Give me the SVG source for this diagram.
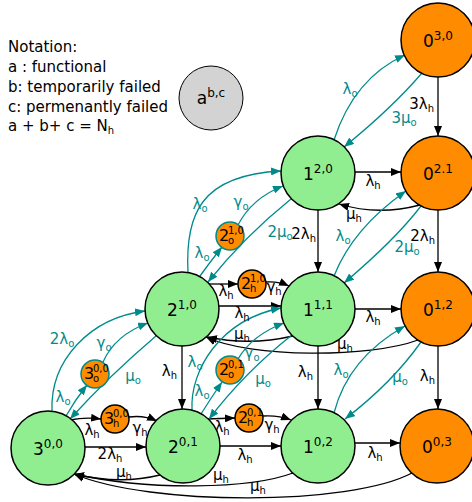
<svg xmlns="http://www.w3.org/2000/svg" width="472" height="502" viewBox="0 0 472 502">
<defs>
<marker id="ab" markerUnits="userSpaceOnUse" markerWidth="11" markerHeight="8" refX="10" refY="4" orient="auto"><path d="M0,0 L10,4 L0,8 z" fill="#000"/></marker>
<marker id="at" markerUnits="userSpaceOnUse" markerWidth="11" markerHeight="8" refX="10" refY="4" orient="auto"><path d="M0,0 L10,4 L0,8 z" fill="#008B8B"/></marker>
<style>
text{font-family:"DejaVu Sans",sans-serif}
.big{stroke:#000;stroke-width:1.5}
.g{fill:#90EE90}
.o{fill:#FF8C00}
.so{fill:#FF8C00;stroke:#008B8B;stroke-width:1.5}
.sh{fill:#FF8C00;stroke:#000;stroke-width:1.5}
.nl{font-size:17px;text-anchor:middle}
.sup{font-size:12px}
.sm{font-size:16px}
.ss{font-size:10px}
.e{fill:none;stroke:#000;stroke-width:1.3;marker-end:url(#ab)}
.t{fill:none;stroke:#008B8B;stroke-width:1.3;marker-end:url(#at)}
.el{font-size:15px;text-anchor:middle;fill:#000}
.ee{font-size:15px;text-anchor:end;fill:#000}
.tl{font-size:15px;text-anchor:middle;fill:#008B8B}
.s{font-size:10px}
.note{font-size:15px}
</style>
</defs>
<rect width="472" height="502" fill="#fff"/>

<g id="notation" class="note">
<text x="8" y="52">Notation:</text>
<text x="8" y="72">a : functional</text>
<text x="8" y="92">b: temporarily failed</text>
<text x="8" y="112">c: permenantly failed</text>
<text x="8" y="131">a + b+ c = N<tspan class="s" dy="3">h</tspan></text>
</g>

<g id="connectors">
<!-- black -->
<path class="e" d="M438,77 L438,136"/>
<path class="e" d="M438,210 L438,272"/>
<path class="e" d="M438,346 L438,409"/>
<path class="e" d="M355,172 L401,172"/>
<path class="e" d="M420,205 Q378,216 339,204"/>
<path class="e" d="M318,210 L318,272"/>
<path class="e" d="M355,309 L401,309"/>
<path class="e" d="M293,336 Q250,346 207,337"/>
<path class="e" d="M418,340 C370,358 250,358 206,337"/>
<path class="e" d="M219,306 L281,306"/>
<path class="e" d="M207,284 L238,284"/>
<path class="e" d="M266,282 Q278,281 289,286"/>
<path class="e" d="M182,346 L182,409"/>
<path class="e" d="M318,346 L318,409"/>
<path class="e" d="M85,447 L146,447"/>
<path class="e" d="M70,420 Q85,417 101,419"/>
<path class="e" d="M129,417 Q144,415 157,421"/>
<path class="e" d="M220,446 L281,446"/>
<path class="e" d="M206,419 L235,418"/>
<path class="e" d="M263,416 Q278,415 291,420"/>
<path class="e" d="M355,443 L400,443"/>
<path class="e" d="M160,475 Q120,485 74,474"/>
<path class="e" d="M293,473 C250,489 150,491 74,474"/>
<path class="e" d="M412,473 C350,506 150,506 74,474"/>
<!-- teal -->
<path class="t" d="M334,140 Q354,78 405,55"/>
<path class="t" d="M422,73 Q392,108 344,147"/>
<path class="t" d="M334,276 Q353,228 406,191"/>
<path class="t" d="M421,206 Q395,240 344,283"/>
<path class="t" d="M334,413 Q348,358 405,326"/>
<path class="t" d="M421,342 Q392,383 345,419"/>
<path class="t" d="M188,273 C185,215 200,175 281,171"/>
<path class="t" d="M200,276 Q210,262 222,247"/>
<path class="t" d="M238,225 Q252,198 283,186"/>
<path class="t" d="M291,199 Q245,236 208,282"/>
<path class="t" d="M52,411 C50,360 90,318 145,311"/>
<path class="t" d="M66,416 Q75,400 87,385"/>
<path class="t" d="M103,362 Q115,335 148,323"/>
<path class="t" d="M156,336 Q110,375 70,419"/>
<path class="t" d="M192,410 C190,370 220,320 281,308"/>
<path class="t" d="M201,414 Q211,398 222,382"/>
<path class="t" d="M238,359 Q252,335 284,323"/>
<path class="t" d="M292,335 Q245,372 209,419"/>
</g>

<g id="edge-labels">
<text class="ee" x="434" y="109">3λ<tspan class="s" dy="3">h</tspan></text>
<text class="ee" x="435" y="241">2λ<tspan class="s" dy="3">h</tspan></text>
<text class="ee" x="435" y="381">λ<tspan class="s" dy="3">h</tspan></text>
<text class="el" x="373" y="186">λ<tspan class="s" dy="3">h</tspan></text>
<text class="el" x="354" y="219">μ<tspan class="s" dy="3">h</tspan></text>
<text class="ee" x="316" y="239">2λ<tspan class="s" dy="3">h</tspan></text>
<text class="el" x="373" y="322">λ<tspan class="s" dy="3">h</tspan></text>
<text class="el" x="242" y="339">μ<tspan class="s" dy="3">h</tspan></text>
<text class="el" x="345" y="349">μ<tspan class="s" dy="3">h</tspan></text>
<text class="el" x="242" y="318">λ<tspan class="s" dy="3">h</tspan></text>
<text class="el" x="226" y="296">λ<tspan class="s" dy="3">h</tspan></text>
<text class="el" x="274" y="292">γ<tspan class="s" dy="3">h</tspan></text>
<text class="ee" x="177" y="376">λ<tspan class="s" dy="3">h</tspan></text>
<text class="ee" x="313" y="377">λ<tspan class="s" dy="3">h</tspan></text>
<text class="el" x="110" y="459">2λ<tspan class="s" dy="3">h</tspan></text>
<text class="el" x="92" y="435">λ<tspan class="s" dy="3">h</tspan></text>
<text class="el" x="140" y="433">γ<tspan class="s" dy="3">h</tspan></text>
<text class="el" x="245" y="460">λ<tspan class="s" dy="3">h</tspan></text>
<text class="el" x="222" y="432">λ<tspan class="s" dy="3">h</tspan></text>
<text class="el" x="272" y="430">γ<tspan class="s" dy="3">h</tspan></text>
<text class="el" x="375" y="458">λ<tspan class="s" dy="3">h</tspan></text>
<text class="el" x="124" y="477">μ<tspan class="s" dy="3">h</tspan></text>
<text class="el" x="221" y="480">μ<tspan class="s" dy="3">h</tspan></text>
<text class="el" x="258" y="491">μ<tspan class="s" dy="3">h</tspan></text>

<text class="tl" x="350" y="94">λ<tspan class="s" dy="3">o</tspan></text>
<text class="tl" x="404" y="123">3μ<tspan class="s" dy="3">o</tspan></text>
<text class="tl" x="343" y="241">λ<tspan class="s" dy="3">o</tspan></text>
<text class="tl" x="407" y="252">2μ<tspan class="s" dy="3">o</tspan></text>
<text class="tl" x="341" y="375">λ<tspan class="s" dy="3">o</tspan></text>
<text class="tl" x="400" y="382">μ<tspan class="s" dy="3">o</tspan></text>
<text class="tl" x="200" y="209">λ<tspan class="s" dy="3">o</tspan></text>
<text class="tl" x="202" y="258">λ<tspan class="s" dy="3">o</tspan></text>
<text class="tl" x="241" y="207">γ<tspan class="s" dy="3">o</tspan></text>
<text class="tl" x="280" y="237">2μ<tspan class="s" dy="3">o</tspan></text>
<text class="tl" x="62" y="344">2λ<tspan class="s" dy="3">o</tspan></text>
<text class="tl" x="63" y="402">λ<tspan class="s" dy="3">o</tspan></text>
<text class="tl" x="104" y="348">γ<tspan class="s" dy="3">o</tspan></text>
<text class="tl" x="133" y="381">μ<tspan class="s" dy="3">o</tspan></text>
<text class="tl" x="195" y="367">λ<tspan class="s" dy="3">o</tspan></text>
<text class="tl" x="202" y="396">λ<tspan class="s" dy="3">o</tspan></text>
<text class="tl" x="252" y="358">γ<tspan class="s" dy="3">o</tspan></text>
<text class="tl" x="263" y="384">μ<tspan class="s" dy="3">o</tspan></text>
</g>

<g id="legend"><circle cx="211" cy="98" r="32" fill="#D3D3D3" stroke="#000" stroke-width="1"/><text class="nl" x="211" y="104">a<tspan class="sup" dy="-7">b,c</tspan></text></g>

<g id="n0_30"><circle class="big o" cx="438" cy="40" r="37"/><text class="nl" x="438" y="47">0<tspan class="sup" dy="-7">3,0</tspan></text></g>
<g id="n0_21"><circle class="big o" cx="438" cy="173" r="37"/><text class="nl" x="438" y="180">0<tspan class="sup" dy="-7">2.1</tspan></text></g>
<g id="n0_12"><circle class="big o" cx="438" cy="309" r="37"/><text class="nl" x="438" y="316">0<tspan class="sup" dy="-7">1,2</tspan></text></g>
<g id="n0_03"><circle class="big o" cx="437" cy="446" r="37"/><text class="nl" x="437" y="453">0<tspan class="sup" dy="-7">0,3</tspan></text></g>
<g id="n1_20"><circle class="big g" cx="318" cy="173" r="37"/><text class="nl" x="318" y="180">1<tspan class="sup" dy="-7">2,0</tspan></text></g>
<g id="n1_11"><circle class="big g" cx="318" cy="309" r="37"/><text class="nl" x="318" y="316">1<tspan class="sup" dy="-7">1,1</tspan></text></g>
<g id="n1_02"><circle class="big g" cx="318" cy="446" r="37"/><text class="nl" x="318" y="453">1<tspan class="sup" dy="-7">0,2</tspan></text></g>
<g id="n2_10"><circle class="big g" cx="182" cy="309" r="37"/><text class="nl" x="182" y="316">2<tspan class="sup" dy="-7">1,0</tspan></text></g>
<g id="n2_01"><circle class="big g" cx="183" cy="446" r="37"/><text class="nl" x="183" y="453">2<tspan class="sup" dy="-7">0,1</tspan></text></g>
<g id="n3_00"><circle class="big g" cx="48" cy="448" r="37"/><text class="nl" x="48" y="455">3<tspan class="sup" dy="-7">0,0</tspan></text></g>

<g id="s2o_10"><circle class="so" cx="230" cy="236" r="14"/><text class="sm" x="219" y="241">2</text><text class="ss" x="228" y="244">o</text><text class="ss" x="228" y="234">1,0</text></g>
<g id="s3o_00"><circle class="so" cx="95" cy="374" r="14"/><text class="sm" x="84" y="379">3</text><text class="ss" x="93" y="382">o</text><text class="ss" x="93" y="372">0,0</text></g>
<g id="s2o_01"><circle class="so" cx="230" cy="370" r="14"/><text class="sm" x="219" y="375">2</text><text class="ss" x="228" y="378">o</text><text class="ss" x="228" y="368">0,1</text></g>
<g id="s2h_10"><circle class="sh" cx="252" cy="284" r="14"/><text class="sm" x="241" y="289">2</text><text class="ss" x="250" y="292">h</text><text class="ss" x="250" y="282">1,0</text></g>
<g id="s3h_00"><circle class="sh" cx="115" cy="419" r="14"/><text class="sm" x="104" y="424">3</text><text class="ss" x="113" y="427">h</text><text class="ss" x="113" y="417">0,0</text></g>
<g id="s2h_01"><circle class="sh" cx="249" cy="418" r="14"/><text class="sm" x="238" y="423">2</text><text class="ss" x="247" y="426">h</text><text class="ss" x="247" y="416">0,1</text></g>
</svg>
